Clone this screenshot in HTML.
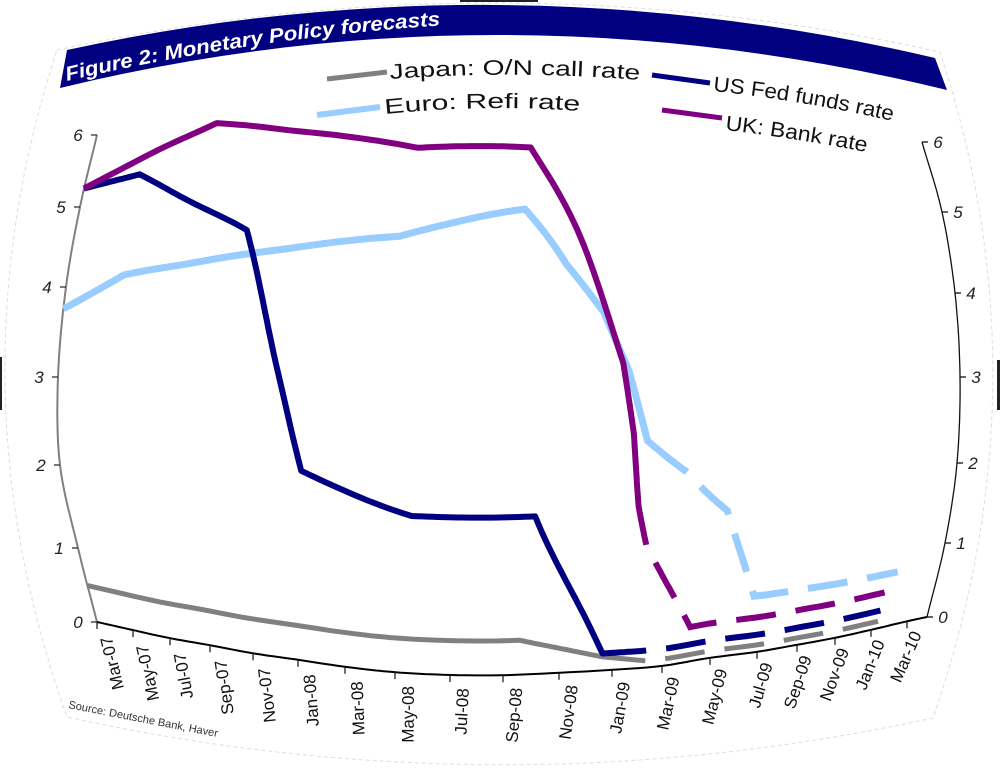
<!DOCTYPE html>
<html><head><meta charset="utf-8"><title>Monetary Policy forecasts</title>
<style>html,body{margin:0;padding:0;background:#fff;}svg{display:block;font-family:"Liberation Sans",Arial,sans-serif;}</style>
</head><body>
<svg id="chart" width="1000" height="771" viewBox="0 0 1000 771" xmlns="http://www.w3.org/2000/svg">
<rect x="0" y="0" width="1000" height="771" fill="#fff"/>
<path d="M57,50 Q500,-45 940,52 Q1049,383 933,718 Q500,812 67,717 Q-52,383 57,50 Z" fill="none" stroke="#dddddd" stroke-width="1" stroke-dasharray="4 3"/>
<rect x="0" y="357" width="2" height="53" fill="#222"/>
<rect x="997" y="360" width="3" height="50" fill="#222"/>
<rect x="460" y="0" width="78" height="2" fill="#222"/>
<path d="M67,50 Q500,-44 935,58 L947,90 Q500,-19 60,88 Z" fill="#000080"/>
<path id="titlePath" d="M67,81 Q250,38 447,25" fill="none"/>
<text font-size="20" font-weight="bold" font-style="italic" fill="#fff"><textPath href="#titlePath" textLength="378" lengthAdjust="spacingAndGlyphs">Figure 2: Monetary Policy forecasts</textPath></text>

<g>
 <line x1="327" y1="79" x2="387" y2="72" stroke="#808080" stroke-width="5"/>
 <path id="lgJ" d="M390,79 Q515,70 641,80" fill="none"/>
 <text font-size="21" fill="#111"><textPath href="#lgJ" textLength="250" lengthAdjust="spacingAndGlyphs">Japan: O/N call rate</textPath></text>
 <line x1="652" y1="75" x2="710" y2="83" stroke="#000080" stroke-width="5"/>
 <path id="lgU" d="M713,91 Q800,100 893,121" fill="none"/>
 <text font-size="21" fill="#111"><textPath href="#lgU" textLength="182" lengthAdjust="spacingAndGlyphs">US Fed funds rate</textPath></text>
 <line x1="317" y1="115" x2="380" y2="107" stroke="#99ccff" stroke-width="6"/>
 <path id="lgE" d="M385,114 Q483,104 581,111" fill="none"/>
 <text font-size="21" fill="#111"><textPath href="#lgE" textLength="195" lengthAdjust="spacingAndGlyphs">Euro: Refi rate</textPath></text>
 <line x1="662" y1="110" x2="722" y2="118" stroke="#800080" stroke-width="5"/>
 <path id="lgK" d="M725,130 Q795,138 866,152" fill="none"/>
 <text font-size="21" fill="#111"><textPath href="#lgK" textLength="143" lengthAdjust="spacingAndGlyphs">UK: Bank rate</textPath></text>
</g>
<text x="68" y="708" font-size="11" fill="#333" transform="rotate(11 68 708)" textLength="152" lengthAdjust="spacingAndGlyphs">Source: Deutsche Bank, Haver</text>
<g id="axes"></g>
<g id="series"></g>
</svg>
<script>
// ---- data (months since Mar-07, rates in %) ----
const xTickLabels = ['Mar-07','May-07','Jul-07','Sep-07','Nov-07','Jan-08','Mar-08','May-08','Jul-08','Sep-08','Nov-08','Jan-09','Mar-09','May-09','Jul-09','Sep-09','Nov-09','Jan-10','Mar-10'];
const yTickValues = [0,1,2,3,4,5,6];
const japanMonths = [0, 18.6, 21.6, 23.3, 34.3];
const japanRates  = [0.5, 0.5, 0.2, 0.1, 0.1];
const japanSolidThrough = 3;
const usMonths = [0, 3, 8.5, 11, 15, 19.2, 21.6, 23.3, 34.3];
const usRates  = [5.25, 5.25, 4.25, 2.3, 2.0, 2.0, 0.25, 0.25, 0.25];
const usSolidThrough = 7;
const euroMonths = [0, 3, 14.5, 18.8, 20.2, 21.5, 22.4, 23.1, 24.6, 26.2, 27.5, 34.8];
const euroRates  = [3.75, 4.0, 4.0, 4.25, 3.78, 3.45, 3.05, 2.55, 2.3, 1.9, 0.8, 0.75];
const euroSolidThrough = 8;
const ukMonths = [0, 6.5, 15, 19, 21.7, 22.2, 22.6, 22.8, 23.1, 25, 34.3];
const ukRates  = [5.25, 5.75, 5.0, 5.0, 3.4, 3.1, 2.6, 2.05, 1.65, 0.5, 0.5];
const ukSolidThrough = 8;

// ---- lens-warp calibration (geometry, not data) ----
const KM = [0,2,4,6,8,10,12,14,16,18,20,22,24,26,28,30,32,34,36,37];
const KX = [97,133,170,210,253,298,345,395,450,503,559,612,662,710,757,797,835,871,907,927];
const KH = [0,.16,.32,.46,.62,.75,.89,1,1.06,1.07,1.03,.98,.91,.76,.65,.52,.39,.24,.08,0];
const VV = [0,1,2,3,4,5,6];
const XLt = [97,78,60,58,66,80,97];
const XRt = [927,945,957,960,955,942,922];
const YLt = [622,548,465,377,287,207,135];
const YRt = [617,543,463,377,293,212,142];
const SV = [0,.083,.333,.5,.667,.833,1];
const SG = [52,54,50,0,-52,-59,-62];

function herm(xs, ys, x){
  const n = xs.length;
  if (x <= xs[0]) return ys[0] + (ys[1]-ys[0])/(xs[1]-xs[0])*(x-xs[0]);
  if (x >= xs[n-1]) return ys[n-1] + (ys[n-1]-ys[n-2])/(xs[n-1]-xs[n-2])*(x-xs[n-1]);
  let i = 0; while (x > xs[i+1]) i++;
  const d = k => k===0 ? (ys[1]-ys[0])/(xs[1]-xs[0]) : (k===n-1 ? (ys[n-1]-ys[n-2])/(xs[n-1]-xs[n-2]) : (ys[k+1]-ys[k-1])/(xs[k+1]-xs[k-1]));
  const h = xs[i+1]-xs[i], t = (x-xs[i])/h, t2=t*t, t3=t2*t;
  return (2*t3-3*t2+1)*ys[i] + (t3-2*t2+t)*d(i)*h + (-2*t3+3*t2)*ys[i+1] + (t3-t2)*d(i+1)*h;
}
// axis function: (month, rate) -> screen point
function W(m, val){
  const g = (herm(KM,KX,m) - 97) / 830;
  const xl = herm(VV,XLt,val), xr = herm(VV,XRt,val);
  const yl = herm(VV,YLt,val), yr = herm(VV,YRt,val);
  const X = xl + (xr-xl)*g;
  const Y = yl + (yr-yl)*g + herm(SV,SG,val/6)*herm(KM,KH,m);
  return [X, Y];
}
const NS = 'http://www.w3.org/2000/svg';
function mk(tag, attrs, parent){
  const e = document.createElementNS(NS, tag);
  for (const k in attrs) e.setAttribute(k, attrs[k]);
  parent.appendChild(e); return e;
}
function pathFrom(months, rates, i0, i1){
  let pts = [];
  for (let i = i0; i < i1; i++){
    for (let s = 0; s < 24; s++){
      const t = s/24;
      pts.push(W(months[i]+(months[i+1]-months[i])*t, rates[i]+(rates[i+1]-rates[i])*t));
    }
  }
  pts.push(W(months[i1], rates[i1]));
  return 'M' + pts.map(p => p[0].toFixed(1)+','+p[1].toFixed(1)).join(' L');
}
const axes = document.getElementById('axes');
function curve(fn, a, b, n){
  let p = [];
  for (let i = 0; i <= n; i++){ const q = fn(a+(b-a)*i/n); p.push(q[0].toFixed(1)+','+q[1].toFixed(1)); }
  return 'M' + p.join(' L');
}
const la = mk('path', {d: curve(v => W(0,v), 0, 6, 60), fill:'none', stroke:'#808080', 'stroke-width':2}, axes);


const ra = mk('path', {d: curve(v => W(37,v), 0, 6, 60), fill:'none', stroke:'#111', 'stroke-width':1.3}, axes);


const ba = mk('path', {d: curve(m => W(m,0), 0, 37, 120), fill:'none', stroke:'#000', 'stroke-width':2}, axes);



yTickValues.forEach(v => {
  const p = W(0, v);
  const t = mk('line', {x1:p[0]-6, y1:p[1], x2:p[0], y2:p[1], stroke:'#333', 'stroke-width':1.3}, axes);
  
  
  const lb = mk('text', {x:p[0]-19, y:p[1]+6, 'font-size':17, 'text-anchor':'middle', fill:'#222', 'font-style':'italic'}, axes);
  lb.textContent = String(v);
  
  
  const q = W(37, v);
  const t2 = mk('line', {x1:q[0], y1:q[1], x2:q[0]+6, y2:q[1], stroke:'#111', 'stroke-width':1.3}, axes);
  
  
  const lb2 = mk('text', {x:q[0]+16, y:q[1]+6, 'font-size':17, 'text-anchor':'middle', fill:'#222', 'font-style':'italic'}, axes);
  lb2.textContent = String(v);
  
  
});
xTickLabels.forEach((lab, i) => {
  const p = W(2*i, 0);
  const tk = mk('line', {x1:p[0], y1:p[1], x2:p[0], y2:p[1]+7, stroke:'#222', 'stroke-width':1.3}, axes);
  
  
  const a = W(2*i+0.5, 0);
  const g = (herm(KM,KX,2*i+0.5) - 97)/830;
  const ang = -104 + 38*g;
  const ax = a[0], ay = a[1] + 13;
  const tx = mk('text', {x:ax, y:ay, 'font-size':17, 'text-anchor':'end', 'dominant-baseline':'central', fill:'#111', transform:'rotate('+ang.toFixed(1)+' '+ax.toFixed(1)+' '+ay.toFixed(1)+')'}, axes);
  tx.textContent = lab;
  
  
});

const sg = document.getElementById('series');
function drawSeries(name, months, rates, solidThrough, color, width){
  const s = mk('path', {d: pathFrom(months, rates, 0, solidThrough), fill:'none', stroke:color, 'stroke-width':width, 'stroke-linejoin':'round'}, sg);
  
  
  const f = mk('path', {d: pathFrom(months, rates, solidThrough, months.length-1), fill:'none', stroke:color, 'stroke-width':width, 'stroke-dasharray':'40 20', 'stroke-dashoffset':40}, sg);
  
  
}
drawSeries('japan', japanMonths, japanRates, japanSolidThrough, '#808080', 5);
drawSeries('euro', euroMonths, euroRates, euroSolidThrough, '#99ccff', 7);
drawSeries('us', usMonths, usRates, usSolidThrough, '#000080', 6);
drawSeries('uk', ukMonths, ukRates, ukSolidThrough, '#800080', 6);
</script>
</body></html>
